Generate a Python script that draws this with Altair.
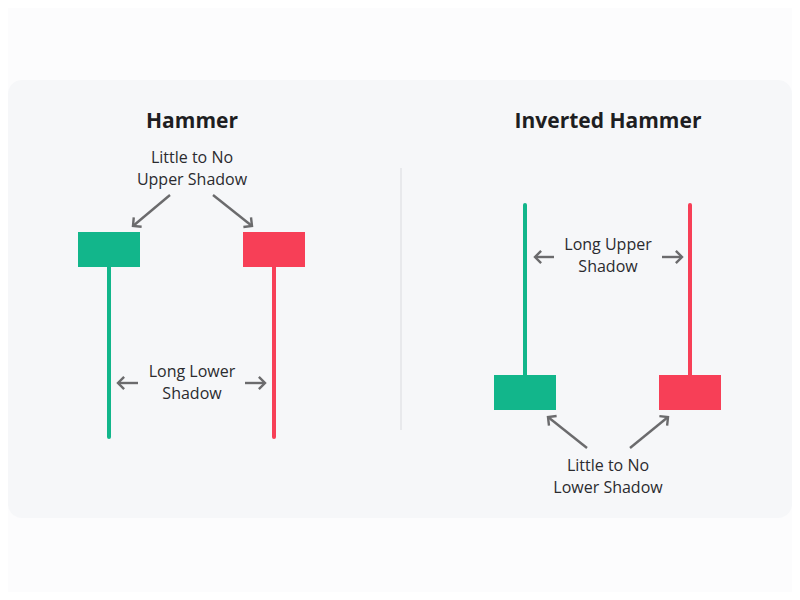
import altair as alt
import pandas as pd
import numpy as np

# ---------------- data (in picture pixel units) ----------------
candle_x = [109, 274, 525, 690]
candle_kind = ["bull", "bear", "bull", "bear"]
body_top = [232, 232, 375, 375]
body_bottom = [267, 267, 410, 410]
wick_top = [267, 267, 205, 205]
wick_bottom = [437, 437, 375, 375]

arrow_x_from = [170, 213, 138, 245, 554, 662, 587, 630]
arrow_y_from = [195, 195, 383, 383, 257, 257, 448, 448]
arrow_x_to = [133, 252, 118, 265, 535, 682, 548, 668]
arrow_y_to = [226, 226, 383, 383, 257, 257, 417, 417]

titles = ["Hammer", "Inverted Hammer"]
title_x = [192, 608]
title_y = [122, 122]

labels = ["Little to No\nUpper Shadow", "Long Lower\nShadow",
          "Long Upper\nShadow", "Little to No\nLower Shadow"]
label_x = [192, 192, 608, 608]
label_y = [158, 372, 245, 466]

divider_x = [401]
divider_top = [168]
divider_bottom = [430]

panel_top = [80]
panel_bottom = [518]

# ---------------- styling ----------------
W, H = 784, 584
GREEN, RED = "#12b68b", "#f73f57"
FONT = "Open Sans"

sx = alt.Scale(domain=[8, 792], nice=False, zero=False)
sy = alt.Scale(domain=[8, 592], nice=False, zero=False, reverse=True)


def X(f):
    return alt.X(f"{f}:Q", scale=sx, axis=None)


def Y(f):
    return alt.Y(f"{f}:Q", scale=sy, axis=None)


color = alt.Color("kind:N", scale=alt.Scale(domain=["bull", "bear"], range=[GREEN, RED]), legend=None)

panel_df = pd.DataFrame({"x": [8], "x2": [792], "y": panel_top, "y2": panel_bottom})
panel = alt.Chart(panel_df).mark_rect(color="#f6f7f9", cornerRadius=14).encode(
    x=X("x"), x2="x2:Q", y=Y("y"), y2="y2:Q")

div_df = pd.DataFrame({"x": divider_x, "y": divider_top, "y2": divider_bottom})
divider = alt.Chart(div_df).mark_rule(color="#dfdfe3", strokeWidth=1.2).encode(
    x=X("x"), y=Y("y"), y2="y2:Q")

cdf = pd.DataFrame({"x": candle_x, "kind": candle_kind, "bt": body_top, "bb": body_bottom,
                    "wt": wick_top, "wb": wick_bottom})
cdf["xl"] = cdf["x"] - 31
cdf["xr"] = cdf["x"] + 31

wicks = alt.Chart(cdf).mark_rule(strokeWidth=4, strokeCap="round").encode(
    x=X("x"), y=Y("wt"), y2="wb:Q", color=color)
bodies = alt.Chart(cdf).mark_rect().encode(
    x=X("xl"), x2="xr:Q", y=Y("bt"), y2="bb:Q", color=color)

adf = pd.DataFrame({"x1": arrow_x_from, "y1": arrow_y_from, "x2": arrow_x_to, "y2": arrow_y_to})
adf["ang"] = np.mod(np.degrees(np.arctan2(adf["y2"] - adf["y1"], adf["x2"] - adf["x1"])), 360)

ARROW = "#6b6b6d"
shafts = alt.Chart(adf).mark_rule(color=ARROW, strokeWidth=2.4).encode(
    x=X("x1"), y=Y("y1"), x2="x2:Q", y2="y2:Q")
heads = alt.Chart(adf).mark_point(shape="M-1,-1L0,0L-1,1", filled=False, color=ARROW,
                                  strokeWidth=2.4, size=150, opacity=1).encode(
    x=X("x2"), y=Y("y2"), angle=alt.Angle("ang:Q", scale=None))

tdf = pd.DataFrame({"text": titles, "x": title_x, "y": title_y})
title_layer = alt.Chart(tdf).mark_text(font=FONT, fontSize=21, fontWeight="bold", color="#1e1e22",
                                       align="center", baseline="middle").encode(
    x=X("x"), y=Y("y"), text="text:N")

ldf = pd.DataFrame({"text": labels, "x": label_x, "y": label_y})
label_layer = alt.Chart(ldf).mark_text(font=FONT, fontSize=16, color="#2b2b2f", lineBreak="\n",
                                       lineHeight=22, align="center", baseline="middle").encode(
    x=X("x"), y=Y("y"), text="text:N")

chart = alt.layer(panel, divider, wicks, bodies, shafts, heads, title_layer, label_layer).properties(
    width=W, height=H, padding=0, autosize=alt.AutoSizeParams(type="none"),
    background="#fcfcfd"
).configure_view(strokeWidth=0)

chart.save("out.html", embed_options={"renderer": "svg", "actions": False})
